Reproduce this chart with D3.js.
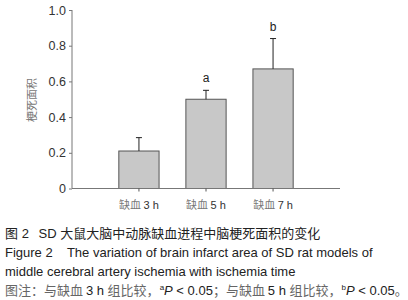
<!DOCTYPE html>
<html>
<head>
<meta charset="utf-8">
<script src="https://cdn.jsdelivr.net/npm/d3@7"></script>
<style>
  body { margin: 0; background: #fff; }
  svg { display: block; }
</style>
</head>
<body>
<div id="chart"></div>
<script>
const categories = ['缺血 3 h', '缺血 5 h', '缺血 7 h']
const means = [0.21, 0.50, 0.67]
const errors = [0.075, 0.05, 0.17]
const marks = ['', 'a', 'b']
const yTicks = [0, 0.2, 0.4, 0.6, 0.8, 1.0]

const width = 408
const height = 300

const svg = d3.select('#chart').append('svg')
  .attr('width', width)
  .attr('height', height)

const x = d3.scaleBand()
  .domain(categories)
  .range([92, 320])
  .paddingInner(0.4)
  .paddingOuter(0.4)

const y = d3.scaleLinear()
  .domain([0, 1])
  .range([188.5, 10])

const font = '"Liberation Sans", Arial, sans-serif'
const cjk = '"Noto Sans CJK SC", sans-serif'

// bars
svg.append('g')
  .selectAll('rect')
  .data(categories)
  .enter().append('rect')
  .attr('x', d => x(d))
  .attr('y', (d, i) => y(means[i]))
  .attr('width', x.bandwidth())
  .attr('height', (d, i) => y(0) - y(means[i]))
  .attr('fill', '#c8c8c8')
  .attr('stroke', '#555')
  .attr('stroke-width', 1)

// error bars (upper only)
const eb = svg.append('g').attr('stroke', '#222').attr('stroke-width', 1)
categories.forEach((c, i) => {
  const cx = x(c) + x.bandwidth() / 2
  eb.append('line')
    .attr('x1', cx).attr('x2', cx)
    .attr('y1', y(means[i])).attr('y2', y(means[i] + errors[i]))
  eb.append('line')
    .attr('x1', cx - 3).attr('x2', cx + 3)
    .attr('y1', y(means[i] + errors[i])).attr('y2', y(means[i] + errors[i]))
})

// significance letters
svg.append('g')
  .selectAll('text')
  .data(categories)
  .enter().append('text')
  .attr('x', d => x(d) + x.bandwidth() / 2)
  .attr('y', (d, i) => y(means[i] + errors[i]) - 8)
  .attr('text-anchor', 'middle')
  .attr('font-family', font)
  .attr('font-size', 12)
  .attr('fill', '#222')
  .text((d, i) => marks[i])

// y axis
const yAxis = svg.append('g')
  .attr('transform', 'translate(72,0)')
  .call(d3.axisLeft(y).tickValues(yTicks).tickSize(3).tickFormat(d => d === 0 ? '0' : d3.format('.1f')(d)))
yAxis.select('.domain').attr('stroke', '#777').attr('d', `M0,${y(1)}V${y(0)}`)
yAxis.selectAll('.tick line').attr('stroke', '#777')
yAxis.selectAll('.tick text')
  .attr('font-family', font)
  .attr('font-size', 12.5)
  .attr('fill', '#333')
  .attr('x', -6)

// x axis
const xAxis = svg.append('g')
  .attr('transform', `translate(0,${y(0)})`)
  .call(d3.axisBottom(x).tickSize(3))
xAxis.select('.domain').attr('stroke', '#777').attr('d', 'M72,0H340')
xAxis.selectAll('.tick line').attr('stroke', '#555')
xAxis.selectAll('.tick text').remove()

// x labels
svg.append('g')
  .selectAll('text')
  .data(categories)
  .enter().append('text')
  .attr('x', d => x(d) + x.bandwidth() / 2)
  .attr('y', 209)
  .attr('text-anchor', 'middle')
  .attr('font-size', 11)
  .attr('fill', '#555')
  .each(function (d) {
    const parts = d.split(' ')
    d3.select(this).append('tspan').attr('font-family', cjk).attr('fill', '#777').text(parts[0] + ' ')
    d3.select(this).append('tspan').attr('font-family', font).attr('fill', '#333').text(parts.slice(1).join(' '))
  })

// y label
svg.append('text')
  .attr('transform', 'translate(36,100) rotate(-90)')
  .attr('text-anchor', 'middle')
  .attr('font-family', cjk)
  .attr('font-size', 11)
  .attr('fill', '#777')
  .text('梗死面积')

// caption
const cap = svg.append('g').attr('font-size', 13).attr('fill', '#222')
const l1 = cap.append('text').attr('x', 5).attr('y', 238)
l1.append('tspan').attr('font-family', cjk).text('图')
l1.append('tspan').attr('font-family', font).text(' 2 ')
l1.append('tspan').attr('font-family', font).attr('dx', 6).text('SD ')
l1.append('tspan').attr('font-family', cjk).text('大鼠大脑中动脉缺血进程中脑梗死面积的变化')

cap.append('text').attr('x', 5).attr('y', 257)
  .attr('font-family', font)
  .attr('xml:space', 'preserve')
  .text('Figure 2    The variation of brain infarct area of SD rat models of')
cap.append('text').attr('x', 5).attr('y', 276)
  .attr('font-family', font)
  .text('middle cerebral artery ischemia with ischemia time')

const l4 = cap.append('text').attr('x', 5).attr('y', 295)
const seg = (t, f, c) => l4.append('tspan').attr('font-family', f).attr('fill', c).text(t)
seg('图注：与缺血 ', cjk, '#666')
seg('3 h ', font, '#222')
seg('组比较，', cjk, '#666')
l4.append('tspan').attr('font-family', font).attr('font-size', 8).attr('dy', -5).text('a')
l4.append('tspan').attr('font-family', font).attr('font-style', 'italic').attr('dy', 5).text('P')
seg(' < 0.05', font, '#222')
seg('；与缺血 ', cjk, '#666')
seg('5 h ', font, '#222')
seg('组比较，', cjk, '#666')
l4.append('tspan').attr('font-family', font).attr('font-size', 8).attr('dy', -5).text('b')
l4.append('tspan').attr('font-family', font).attr('font-style', 'italic').attr('dy', 5).text('P')
seg(' < 0.05', font, '#222')
seg('。', cjk, '#666')
</script>
</body>
</html>
